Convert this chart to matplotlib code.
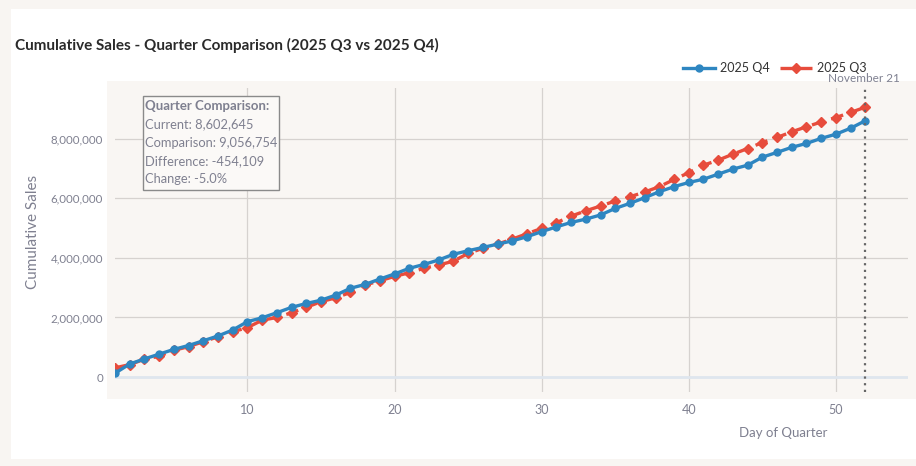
import matplotlib.pyplot as plt
from matplotlib.patches import Rectangle
from matplotlib.ticker import FuncFormatter

plt.rcParams["font.family"] = ["Lato", "DejaVu Sans"]

# Data: cumulative sales per day of quarter
days = list(range(1, 53))
q4_sales = [
    130000, 440000, 610000, 770000, 930000, 1060000, 1220000, 1380000, 1580000, 1860000,
    1990000, 2160000, 2340000, 2470000, 2580000, 2750000, 2980000, 3110000, 3290000, 3460000,
    3650000, 3780000, 3930000, 4120000, 4240000, 4350000, 4460000, 4570000, 4710000, 4880000,
    5040000, 5190000, 5300000, 5440000, 5660000, 5830000, 6020000, 6220000, 6390000, 6530000,
    6640000, 6810000, 6980000, 7110000, 7380000, 7540000, 7710000, 7840000, 8010000, 8150000,
    8350000, 8602645,
]
q3_sales = [
    310000, 420000, 600000, 700000, 900000, 1020000, 1190000, 1350000, 1520000, 1660000,
    1910000, 2000000, 2160000, 2340000, 2530000, 2660000, 2840000, 3090000, 3230000, 3380000,
    3500000, 3650000, 3760000, 3890000, 4150000, 4320000, 4460000, 4630000, 4810000, 4990000,
    5180000, 5400000, 5580000, 5740000, 5910000, 6050000, 6210000, 6390000, 6630000, 6860000,
    7110000, 7280000, 7480000, 7670000, 7870000, 8040000, 8230000, 8400000, 8560000, 8710000,
    8880000, 9056754,
]
current_day = 52
current_label = "November 21"
tooltip_lines = [
    "Current: 8,602,645",
    "Comparison: 9,056,754",
    "Difference: -454,109",
    "Change: -5.0%",
]

W, H = 916, 466
fig = plt.figure(figsize=(W / 100, H / 100), dpi=100)
fig.patch.set_facecolor("#f8f5f2")


def fx(px):
    return px / W


def fy(py):
    return 1 - py / H


# white card and plot background
fig.patches.append(Rectangle((fx(11), fy(459)), fx(916) - fx(11), fy(9) - fy(459),
                             transform=fig.transFigure, facecolor="white", edgecolor="none", zorder=-2))
fig.patches.append(Rectangle((fx(107), fy(399)), fx(916) - fx(107), fy(81) - fy(399),
                             transform=fig.transFigure, facecolor="#f9f6f3", edgecolor="none", zorder=-1))

ax = fig.add_axes([fx(115), fy(392), fx(908) - fx(115), fy(88) - fy(392)])
ax.set_facecolor("none")

grey = "#7f8090"
ax.plot(days, q4_sales, color="#2E86C1", linewidth=2.4, marker="o", markersize=5,
        label="2025 Q4", zorder=4)
ax.plot(days, q3_sales, color="#E74C3C", linewidth=2.4, linestyle=(0, (3.8, 2.2)), marker="D",
        markersize=5.5, label="2025 Q3", zorder=3)

ax.axvline(current_day, color="#666666", linestyle=(0, (1, 2)), linewidth=1.6, zorder=5)
ax.axhline(0, color="#dfe6ee", linewidth=2, zorder=1)

ax.set_xlim(1, 54.9)
ax.set_ylim(-500000, 9700000)
ax.set_xticks([10, 20, 30, 40, 50])
ax.set_yticks([0, 2000000, 4000000, 6000000, 8000000])
ax.yaxis.set_major_formatter(FuncFormatter(lambda v, p: f"{int(v):,}"))
ax.grid(True, color="#d6d2cf", linewidth=0.9, zorder=0)
ax.set_axisbelow(True)
for s in ax.spines.values():
    s.set_visible(False)
ax.tick_params(length=0, labelsize=9, colors=grey)
ax.tick_params(axis="y", pad=8.5, labelsize=8.3)
ax.tick_params(axis="x", pad=9)

fig.text(fx(33), fy(232), "Cumulative Sales", rotation=90, ha="center", va="center",
         fontsize=11, color=grey)
fig.text(fx(827), fy(433), "Day of Quarter", ha="right", va="center", fontsize=9.5, color=grey)

fig.text(fx(15), fy(45), "Cumulative Sales - Quarter Comparison (2025 Q3 vs 2025 Q4)",
         ha="left", va="center", fontsize=11, fontweight="bold", color="#2a2a2a")

fig.text(fx(864), fy(79), current_label, ha="center", va="center", fontsize=8.5, color=grey)

leg = fig.legend(loc="center right", bbox_to_anchor=(fx(867), fy(68)), ncol=2, frameon=False,
                 fontsize=9, handlelength=2.6, columnspacing=0.8, handletextpad=0.4,
                 labelcolor="#333333", borderaxespad=0, borderpad=0)

# tooltip box
fig.patches.append(Rectangle((fx(143), fy(190)), fx(279) - fx(143), fy(96) - fy(190),
                             transform=fig.transFigure, facecolor="#fbf9f7", edgecolor="#8a8a8a",
                             linewidth=1, zorder=6))
fig.text(fx(145), fy(106), "Quarter Comparison:", ha="left", va="center", fontsize=9.5,
         fontweight="bold", color=grey, zorder=7)
for i, line in enumerate(tooltip_lines):
    fig.text(fx(145), fy(124.5 + 18.3 * i), line, ha="left", va="center", fontsize=9.3,
             color=grey, zorder=7)

fig.savefig("out.png", dpi=100)
